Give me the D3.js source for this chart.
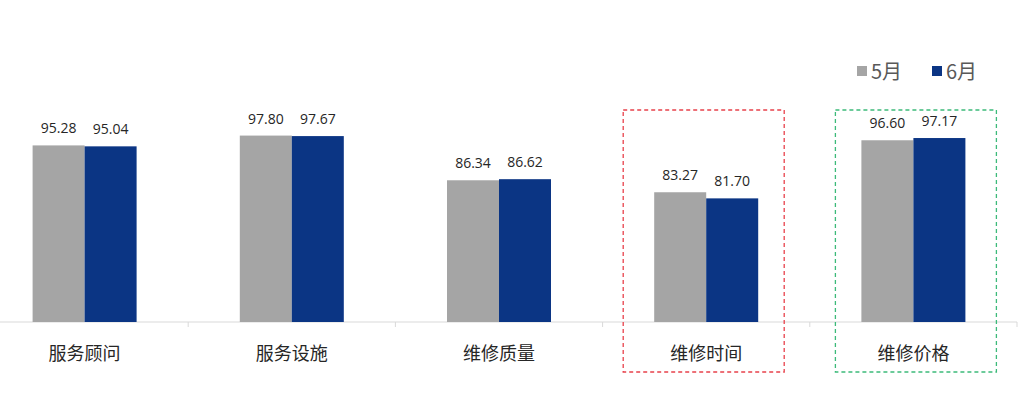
<!DOCTYPE html>
<html>
<head>
<meta charset="utf-8">
<script src="https://cdn.jsdelivr.net/npm/d3@7"></script>
<style>
    body { margin: 0; background: #fff; }
    svg { display: block; font-family: "Noto Sans CJK SC", "Microsoft YaHei", sans-serif; }
    .axis path, .axis line { stroke: #d9d9d9; }
    .num { font-family: "Open Sans", "Noto Sans", sans-serif; }
</style>
</head>
<body>
<div id="chart"></div>
<script>
const categories = ['服务顾问', '服务设施', '维修质量', '维修时间', '维修价格']
const seriesNames = ['5月', '6月']
const may = [95.28, 97.80, 86.34, 83.27, 96.60]
const june = [95.04, 97.67, 86.62, 81.70, 97.17]
// boxes drawn round these categories
const highlights = [
    { category: '维修时间', color: '#e8414b' },
    { category: '维修价格', color: '#3cba7a' }
]

const width = 1024
const height = 412
const colors = ['#a5a5a5', '#0b3584']
const boxShift = [-83, -78]

const svg = d3.select('#chart')
    .append('svg')
    .attr('width', width)
    .attr('height', height)

const x = d3.scaleBand()
    .domain(categories)
    .range([-19, 1017])

const x1 = d3.scaleBand()
    .domain(seriesNames)
    .range([0, 104])

const y = d3.scaleLinear()
    .domain([50, 100])
    .range([322, 127])

const rows = categories.map((c, i) => ({ category: c, values: [may[i], june[i]] }))

// axis line with ticks between categories
const xAxis = d3.axisBottom(x).tickSize(0).tickFormat('')
svg.append('g')
    .attr('class', 'axis')
    .attr('transform', 'translate(0, 322)')
    .call(xAxis)
    .call(g => g.select('.domain').attr('d', 'M-19,0H1017'))

svg.append('g')
    .selectAll('line')
    .data(categories.slice(1).concat(['end']))
    .join('line')
    .attr('x1', (d, i) => x.range()[0] + x.step() * (i + 1))
    .attr('x2', (d, i) => x.range()[0] + x.step() * (i + 1))
    .attr('y1', 322)
    .attr('y2', 327)
    .attr('stroke', '#d9d9d9')

const groups = svg.append('g')
    .selectAll('g')
    .data(rows)
    .join('g')
    .attr('transform', d => `translate(${x(d.category) + x.bandwidth() / 2 - 52}, 0)`)

groups.selectAll('rect')
    .data(d => d.values.map((v, i) => ({ name: seriesNames[i], value: v })))
    .join('rect')
    .attr('x', d => x1(d.name))
    .attr('y', d => y(d.value))
    .attr('width', x1.bandwidth())
    .attr('height', d => y(50) - y(d.value))
    .attr('fill', (d, i) => colors[i])

groups.selectAll('text')
    .data(d => d.values.map((v, i) => ({ name: seriesNames[i], value: v })))
    .join('text')
    .attr('class', 'num')
    .attr('x', d => x1(d.name) + x1.bandwidth() / 2)
    .attr('y', d => y(d.value) - 12)
    .attr('text-anchor', 'middle')
    .attr('font-size', 14)
    .attr('fill', '#262626')
    .text(d => d.value.toFixed(2))

// category labels
svg.append('g')
    .selectAll('text')
    .data(categories)
    .join('text')
    .attr('x', d => x(d) + x.bandwidth() / 2)
    .attr('y', 360)
    .attr('text-anchor', 'middle')
    .attr('font-size', 18)
    .attr('fill', '#262626')
    .text(d => d)

// dashed highlight boxes
svg.append('g')
    .selectAll('rect')
    .data(highlights)
    .join('rect')
    .attr('x', (d, i) => x(d.category) + x.bandwidth() / 2 + boxShift[i])
    .attr('y', 110)
    .attr('width', 161)
    .attr('height', 262)
    .attr('fill', 'none')
    .attr('stroke', d => d.color)
    .attr('stroke-width', 1.3)
    .attr('stroke-dasharray', '4,3')

// legend
const legend = svg.append('g')
    .attr('transform', 'translate(857, 71)')
    .selectAll('g')
    .data(seriesNames)
    .join('g')
    .attr('transform', (d, i) => `translate(${i * 75}, 0)`)

legend.append('rect')
    .attr('x', 0)
    .attr('y', -5)
    .attr('width', 10)
    .attr('height', 10)
    .attr('fill', (d, i) => colors[i])

legend.append('text')
    .attr('x', 14)
    .attr('y', 8)
    .attr('font-size', 20)
    .attr('fill', '#595959')
    .text(d => d)
</script>
</body>
</html>
